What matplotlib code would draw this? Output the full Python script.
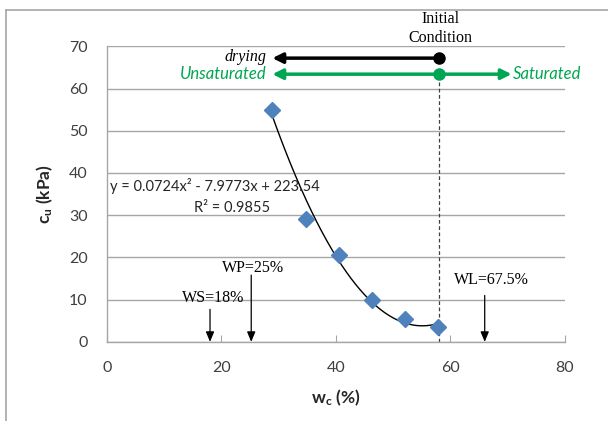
import matplotlib.pyplot as plt
import numpy as np
from matplotlib.lines import Line2D

# measured points
wc = [28.8, 34.7, 40.5, 46.3, 52.0, 57.8]
cu = [55.0, 29.1, 20.5, 10.0, 5.5, 3.6]

# trend line coefficients shown on the chart
coef = [0.0724, -7.9773, 223.54]

# limits and state marks
x_init = 58.0
limits = {'WS=18%': 18.0, 'WP=25%': 25.2, 'WL=67.5%': 66.0}

plt.rcParams['font.family'] = ['Lato', 'DejaVu Sans']
plt.rcParams['mathtext.fontset'] = 'custom'
plt.rcParams['mathtext.bf'] = 'Lato:bold'
plt.rcParams['mathtext.rm'] = 'Lato'

serif = 'Liberation Serif'
green = '#00A651'
gray_txt = '#404040'

fig = plt.figure(figsize=(6.08, 4.21), dpi=100)
ax = fig.add_axes([0.176, 0.188, 0.753, 0.702])

# trend curve
xs = np.linspace(min(wc), max(wc), 200)
ax.plot(xs, np.polyval(coef, xs), color='black', lw=1.0, zorder=3)
ax.plot(wc, cu, 'D', color='#4F81BD', ms=8.5, zorder=4)

ax.set_xlim(0, 80)
ax.set_ylim(0, 70)
ax.set_xticks(range(0, 81, 20))
ax.set_yticks(range(0, 71, 10))
ax.yaxis.grid(True, color='#A6A6A6', lw=1.0)
ax.set_axisbelow(True)
for s in ['top', 'right']:
    ax.spines[s].set_visible(False)
for s in ['left', 'bottom']:
    ax.spines[s].set_color('#A6A6A6')
    ax.spines[s].set_linewidth(1.0)
ax.tick_params(axis='x', direction='in', length=5, color='#A6A6A6', labelsize=11.5,
               labelcolor=gray_txt, pad=14)
ax.tick_params(axis='y', length=0, labelsize=11.5, labelcolor=gray_txt, pad=14)

ax.set_xlabel(r'$\mathbf{w_c}$ (%)', fontsize=12.5, fontweight='bold', color='#262626', labelpad=9)
ax.set_ylabel(r'$\mathbf{c_u}$ (kPa)', fontsize=12.5, fontweight='bold', color='#262626', labelpad=10)

# equation
ax.text(0.5, 36.9, 'y = 0.0724x² - 7.9773x + 223.54', fontsize=10.5, color='#262626',
        va='center', ha='left')
ax.text(21.8, 31.6, 'R² = 0.9855', fontsize=10.5, color='#262626', va='center', ha='center')

# vertical dashed line at initial condition
ax.plot([x_init, x_init], [0, 63.4], color='#404040', lw=0.9, ls=(0, (3, 2)), zorder=2)

# drying arrow (black)
ax.annotate('', xy=(28.9, 67.2), xytext=(x_init, 67.2),
            arrowprops=dict(arrowstyle='-|>,head_length=0.6,head_width=0.3',
                            color='black', lw=2.5, shrinkA=0, shrinkB=0),
            annotation_clip=False)
ax.plot([x_init], [67.2], 'o', color='black', ms=8, clip_on=False, zorder=5)
ax.text(27.8, 67.4, 'drying', family=serif, style='italic', fontsize=11.5,
        ha='right', va='center')

# saturation arrow (green, both ways)
ax.annotate('', xy=(28.9, 63.4), xytext=(70.7, 63.4),
            arrowprops=dict(arrowstyle='<|-|>,head_length=0.6,head_width=0.3',
                            color=green, lw=2.5, shrinkA=0, shrinkB=0),
            annotation_clip=False)
ax.plot([x_init], [63.4], 'o', color=green, ms=8, clip_on=False, zorder=5)
ax.text(27.8, 63.4, 'Unsaturated', color=green, style='italic', fontsize=12,
        ha='right', va='center')
ax.text(71.0, 63.4, 'Saturated', color=green, style='italic', fontsize=12,
        ha='left', va='center', clip_on=False)

ax.text(x_init + 0.3, 70.0, 'Initial\nCondition', family=serif, fontsize=11.5, ha='center',
        va='bottom', linespacing=1.25, clip_on=False)

# limit arrows
label_pos = {'WS=18%': (18.5, 10.3, 7.7), 'WP=25%': (25.6, 17.5, 15.8),
             'WL=67.5%': (67.2, 14.6, 11.0)}
for name, xv in limits.items():
    lx, ly, top = label_pos[name]
    ax.annotate('', xy=(xv, 0), xytext=(xv, top),
                arrowprops=dict(arrowstyle='-|>,head_length=0.6,head_width=0.25',
                                color='black', lw=0.9, shrinkA=0, shrinkB=0))
    ax.text(lx, ly, name, family=serif, fontsize=11.5, ha='center', va='center')

# chart area border
fig.add_artist(Line2D([6 / 608, 6 / 608], [0, 1 - 10 / 421], color='#A6A6A6', lw=1.2))
fig.add_artist(Line2D([6 / 608, 1], [1 - 10 / 421, 1 - 10 / 421], color='#A6A6A6', lw=1.2))

fig.savefig('out.png', dpi=100)
